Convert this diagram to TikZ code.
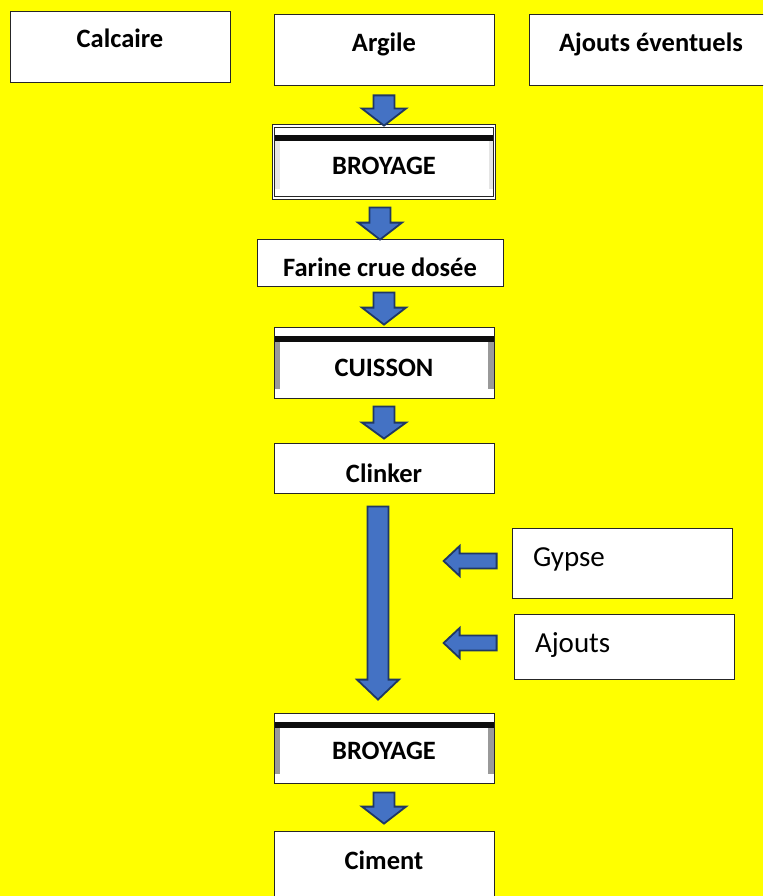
\documentclass[tikz,border=0pt]{standalone}
\usepackage{fontspec}
\setmainfont{Carlito}
\usetikzlibrary{calc}

\definecolor{bgyellow}{HTML}{FFFF00}
\definecolor{arrowblue}{HTML}{4472C4}
\definecolor{arrowedge}{HTML}{1F3864}

\tikzset{
  box/.style={draw=black!85, line width=0.8pt, fill=white, inner sep=0pt,
    font=\fontsize{26.5}{30}\selectfont\bfseries},
  heavybox/.style={box, path picture={
    \fill[black!95] ([yshift=-9pt]path picture bounding box.north west) rectangle ([yshift=-15pt]path picture bounding box.north east);
    \fill[#1] ([yshift=-15pt]path picture bounding box.north west) rectangle ([xshift=6pt,yshift=9pt]path picture bounding box.south west);
    \fill[#1] ([yshift=-15pt]path picture bounding box.north east) rectangle ([xshift=-6pt,yshift=9pt]path picture bounding box.south east);
  }},
  heavybox/.default=black!40,
  sidebox/.style={box, font=\fontsize{29}{34}\selectfont, align=left,
    inner xsep=21pt, text width=178pt},
  blockarrow/.style={fill=arrowblue, draw=arrowedge, line width=1.8pt}
}

\newcommand{\blockdown}[5]{%
  \draw[blockarrow] let \p1=#1, \p2=#2 in
    (\x2-#3,\y1) -- (\x2+#3,\y1) -- (\x2+#3,\y2+#5) -- (\x2+#4,\y2+#5) -- (\p2) -- (\x2-#4,\y2+#5) -- (\x2-#3,\y2+#5) -- cycle;}
\newcommand{\blockleft}[5]{%
  \draw[blockarrow] let \p1=#1, \p2=#2 in
    (\x1,\y2-#3) -- (\x1,\y2+#3) -- (\x2+#5,\y2+#3) -- (\x2+#5,\y2+#4) -- (\p2) -- (\x2+#5,\y2-#4) -- (\x2+#5,\y2-#3) -- cycle;}

\begin{document}
\begin{tikzpicture}[x=1pt, y=-1pt]
\useasboundingbox (0,0) rectangle (763,896);
\clip (0,0) rectangle (763,896);
\fill[bgyellow] (0,0) rectangle (763,896);

\node[box, minimum width=220, minimum height=71, text height=18pt, text depth=15pt] (calcaire) at (120,46.5) {Calcaire};
\node[box, minimum width=220, minimum height=71, text height=18pt, text depth=13pt] (argile) at (384,49.5) {Argile};
\node[box, minimum width=244, minimum height=71, text height=18pt, text depth=13pt] (ajoutsev) at (651,49.5) {Ajouts éventuels};

\node[heavybox=black!10, double=white, double distance=1.5pt, minimum width=221, minimum height=72, text height=26pt, text depth=0pt] (broyA) at (384,162) {BROYAGE};
\node[box, minimum width=246, minimum height=47, text height=27pt, text depth=0pt] (farine) at (380,262.5) {Farine crue dosée};
\node[heavybox, minimum width=220, minimum height=71, text height=27pt, text depth=0pt] (cuisson) at (384,362.5) {CUISSON};
\node[box, minimum width=220, minimum height=50, text height=28pt, text depth=0pt] (clinker) at (384,468) {Clinker};
\node[heavybox, minimum width=220, minimum height=70, text height=22pt, text depth=0pt] (broyB) at (384,748) {BROYAGE};
\node[box, minimum width=220, minimum height=69, text height=18pt, text depth=11pt] (ciment) at (384,865.5) {Ciment};

\node[sidebox, minimum height=70, text height=18pt, text depth=12pt] (gypse) at (622,563) {Gypse};
\node[sidebox, minimum height=65, text height=18pt, text depth=7pt] (ajouts) at (624,646.5) {Ajouts};

\blockdown{($(argile.south)+(0,10)$)}{(broyA.north)}{10.5pt}{22pt}{17pt}
\blockdown{($(broyA.south)+(0,9)$)}{($(farine.north)+(0,1)$)}{10.5pt}{22pt}{17pt}
\blockdown{($(farine.south)+(0,6)$)}{($(cuisson.north)+(0,-2)$)}{10.5pt}{22pt}{17pt}
\blockdown{($(cuisson.south)+(0,8)$)}{($(clinker.north)+(0,-4)$)}{10.5pt}{22pt}{16pt}
\blockdown{($(clinker.south)+(-6,13)$)}{($(broyB.north)+(-6,-13)$)}{10.5pt}{21pt}{20pt}
\blockdown{($(broyB.south)+(0,9)$)}{($(ciment.north)+(0,-7)$)}{10.5pt}{22pt}{17pt}

\coordinate (gypsetip) at ($(gypse.west)+(-68,-2)$);
\coordinate (ajoutstip) at ($(ajouts.west)+(-70,-3.5)$);
\blockleft{($(gypse.west)+(-15,-2)$)}{(gypsetip)}{7.5pt}{15pt}{16pt}
\blockleft{($(ajouts.west)+(-17,-3.5)$)}{(ajoutstip)}{7.5pt}{15pt}{16pt}
\end{tikzpicture}
\end{document}
